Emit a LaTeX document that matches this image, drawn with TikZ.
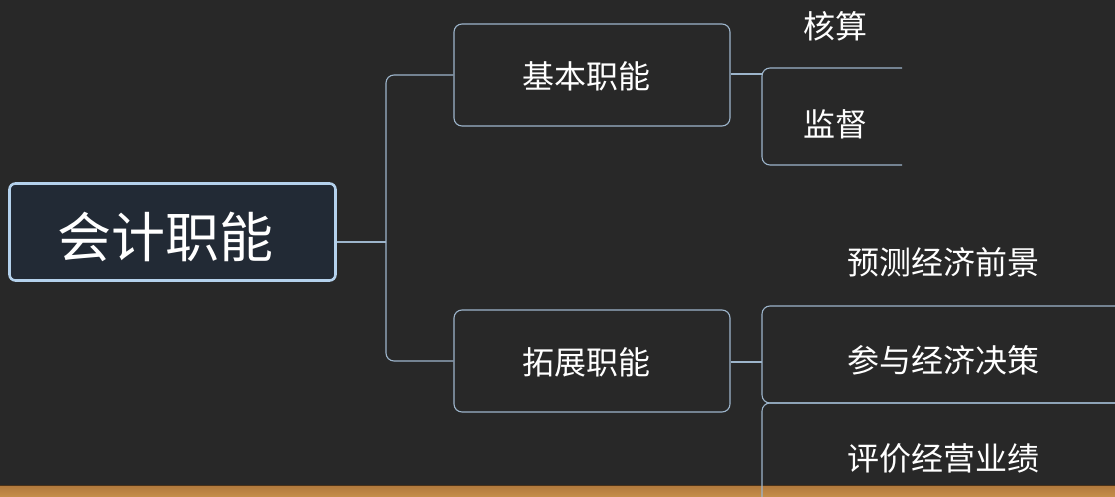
\documentclass[tikz,border=0pt]{standalone}
\usepackage{fontspec}
\newfontfamily\cjk{Noto Sans CJK SC}
\definecolor{bg}{RGB}{40,40,40}
\definecolor{rootfill}{RGB}{34,42,53}
\definecolor{rootline}{RGB}{180,209,236}
\definecolor{conn}{RGB}{157,181,203}
\definecolor{wood}{RGB}{198,143,74}
\definecolor{woodd}{RGB}{176,120,60}
\newcommand{\lowertext}[2]{\raisebox{-#1}[\height][\depth]{#2}}
\tikzset{
  rootbox/.style={draw=rootline, line width=2.6pt, fill=rootfill, rounded corners=6pt,
    minimum width=326pt, minimum height=97pt, inner sep=0pt, text=white,
    font=\cjk\fontsize{54}{62}\selectfont},
  branchbox/.style={draw=conn, line width=1.1pt, fill=bg, rounded corners=8pt,
    minimum width=276pt, minimum height=102pt, inner sep=0pt, text=white,
    font=\cjk\fontsize{32}{38}\selectfont},
  leaf/.style={text=white, inner sep=0pt, font=\cjk\fontsize{32}{38}\selectfont},
  link/.style={draw=conn, line width=1.1pt, rounded corners=8pt},
}
\begin{document}
\begin{tikzpicture}[x=1pt,y=-1pt]
\useasboundingbox (0,0) rectangle (1115,497);
\clip (0,0) rectangle (1115,497);
\fill[bg] (0,0) rectangle (1115,497);
% wood band
\shade[top color=woodd, bottom color=wood] (0,485) rectangle (1115,497);
\draw[black!60!brown, line width=0.8pt] (0,485) -- (1115,485);

% nodes
\node[rootbox] (root) at (172.5,232) {\hspace*{-14pt}\lowertext{5pt}{会计职能}};
\node[branchbox] (b1) at (592,75) {\hspace*{-12pt}\lowertext{1pt}{基本职能}};
\node[branchbox] (b2) at (592,361) {\hspace*{-12pt}\lowertext{1pt}{拓展职能}};

\node[leaf] (l1) at (835,26) {核算};
\node[leaf] (l2) at (835,124) {监督};
\node[leaf] (l3) at (943,262) {预测经济前景};
\node[leaf] (l4) at (943,360) {参与经济决策};
\node[leaf] (l5) at (943,458) {评价经营业绩};

% junctions
\coordinate (j1) at (386,242);
\coordinate (k1) at (762,74);
\coordinate (k2) at (762,362);

% root to branches
\draw[link] (root.east |- j1) -- (j1);
\draw[link] (b1.west) -| (j1);
\draw[link] (b2.west) -| (j1);

% branch to leaves
\draw[link] (b1.east |- k1) -- (k1);
\draw[link] (b2.east |- k2) -- (k2);

% leaf frames (open at right)
\coordinate (m1) at (902,68);
\coordinate (m2) at (902,165);
\draw[link] (m1) -| (k1 |- m2) -- (m2);
\coordinate (p1) at (1125,306);
\coordinate (p2) at (1125,403);
\coordinate (p3) at (762,515);
\draw[link] (p1) -| (k2 |- p2) -- (p2);
\draw[link] (p2) -| (p3);
\end{tikzpicture}
\end{document}
